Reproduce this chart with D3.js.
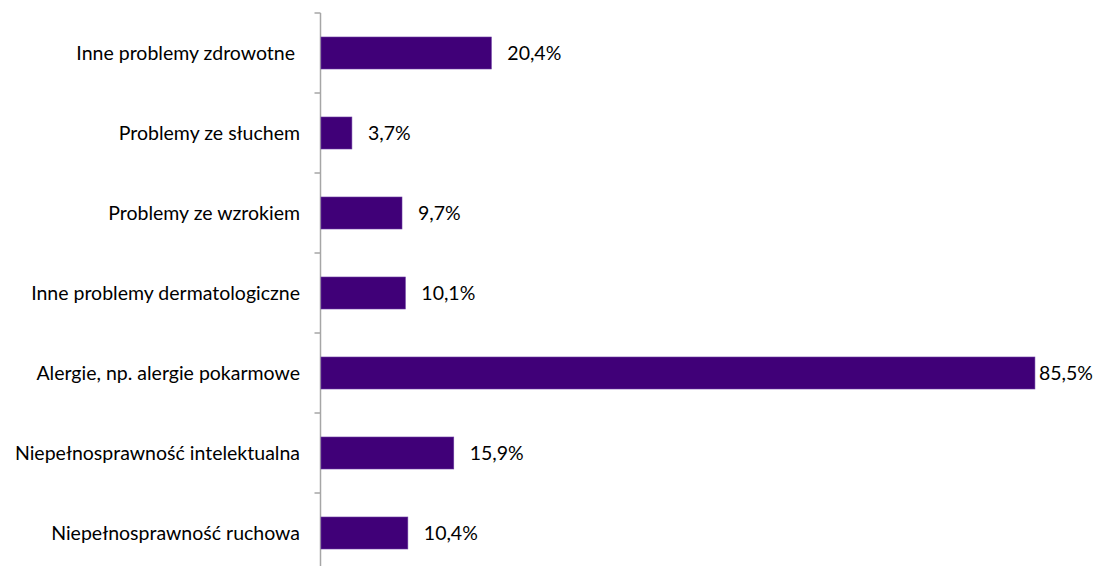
<!DOCTYPE html>
<html><head><meta charset="utf-8">
<script src="https://cdn.jsdelivr.net/npm/d3@7"></script>
<style>body{margin:0;background:#fff}svg{display:block}text{white-space:pre}</style>
</head><body>
<svg id="c" width="1098" height="566"></svg>
<script>
const categories = [
  "Inne problemy zdrowotne ",
  "Problemy ze słuchem",
  "Problemy ze wzrokiem",
  "Inne problemy dermatologiczne",
  "Alergie, np. alergie pokarmowe",
  "Niepełnosprawność intelektualna",
  "Niepełnosprawność ruchowa"
];
const values = [20.4, 3.7, 9.7, 10.1, 85.5, 15.9, 10.4];
const valueLabels = ["20,4%", "3,7%", "9,7%", "10,1%", "85,5%", "15,9%", "10,4%"];

const W = 1098, H = 566;
const svg = d3.select("#c");
const font = "Lato, 'Open Sans', sans-serif";
const fs = 19.5;
const x = d3.scaleLinear().domain([0, 100]).range([321, 1156]);
const y = d3.scaleBand().domain(categories).range([13, 573]).paddingInner(0.6).paddingOuter(0.3);
const step = y.step();

const axisX = 320.5;
svg.append("line").attr("x1", axisX).attr("x2", axisX).attr("y1", 13).attr("y2", 573)
  .attr("stroke", "#a6a6a6").attr("stroke-width", 1.5);
svg.selectAll(".tk").data(categories.map((c, i) => 13 + i * step).concat([573])).enter()
  .append("line").attr("x1", axisX - 6).attr("x2", axisX).attr("y1", d => d).attr("y2", d => d)
  .attr("stroke", "#a6a6a6").attr("stroke-width", 1.5);

svg.selectAll(".bar").data(values).enter().append("rect")
  .attr("x", x(0)).attr("y", (d, i) => y(categories[i]))
  .attr("width", d => x(d) - x(0)).attr("height", y.bandwidth())
  .attr("fill", "#400078").attr("stroke", "#6a3aa0").attr("stroke-width", 0.6);

svg.selectAll(".cat").data(categories).enter().append("text")
  .attr("x", 300).attr("y", d => y(d) + y.bandwidth() / 2)
  .attr("dy", "0.35em").attr("text-anchor", "end")
  .attr("font-family", font).attr("font-size", fs).attr("fill", "#000")
  .text(d => d);

svg.selectAll(".val").data(values).enter().append("text")
  .attr("y", (d, i) => y(categories[i]) + y.bandwidth() / 2)
  .attr("dy", "0.35em")
  .attr("font-family", font).attr("font-size", fs).attr("fill", "#000")
  .text((d, i) => valueLabels[i])
  .attr("x", function(d) {
    const w = this.getComputedTextLength();
    return Math.min(x(d) + 16, W - 5 - w);
  });
</script>
</body></html>
